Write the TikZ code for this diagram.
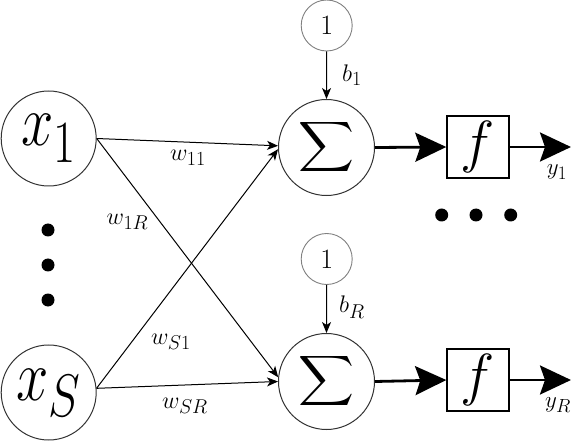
\RequirePackage{fix-cm}
\documentclass[tikz,border=0pt]{standalone}
\usepackage{graphicx}
\usetikzlibrary{arrows.meta}
\DeclareMathSizes{58}{58}{48}{40}
\DeclareMathSizes{24}{24}{20}{16}
\DeclareMathSizes{23}{23}{19}{15}
\tikzset{
  neuron/.style={circle, draw=black!80, line width=1pt, minimum size=95pt, inner sep=0pt},
  sumnode/.style={neuron, minimum size=96pt},
  biasnode/.style={circle, draw=black!50, line width=0.9pt, minimum size=51pt, inner sep=0pt, font=\fontsize{28}{32}\selectfont},
  fnode/.style={draw, line width=1.4pt, minimum size=62pt, inner sep=0pt},
  dotnode/.style={circle, fill, minimum size=13pt, inner sep=0pt},
  thinarrow/.style={-{Stealth[length=11pt,width=9pt,inset=3pt]}, line width=1pt},
  thickarrow/.style={-{Stealth[length=31pt,width=29pt,inset=5pt]}, line width=2.8pt},
  lbl/.style={font=\fontsize{24}{28}\selectfont, inner sep=0pt},
  smlbl/.style={font=\fontsize{23}{27}\selectfont, inner sep=0pt},
}
\newcommand{\bigmath}[1]{\scalebox{1}[1.25]{\fontsize{58}{60}\selectfont$#1$}}
\newcommand{\sumglyph}{\resizebox*{56pt}{56pt}{$\displaystyle\sum$}}
\begin{document}
\begin{tikzpicture}[x=1pt,y=-1pt]
\useasboundingbox (0,0) rectangle (571,441);
% inputs
\node[neuron] (x1) at (48.7,138.5) {\bigmath{x_{\lower5pt\hbox{$\scriptstyle 1$}}}};
\node[neuron] (xS) at (48.7,392.5) {\bigmath{x_S}};
% summation nodes
\node[sumnode] (s1) at (326.5,147.5) {\sumglyph};
\node[sumnode] (sR) at (326.5,381.5) {\sumglyph};
% bias nodes
\node[biasnode] (b1) at (326.7,25.5) {1};
\node[biasnode] (bR) at (326.7,259) {1};
% activation boxes
\node[fnode] (f1) at (478,147) {\fontsize{58}{60}\selectfont$f$};
\node[fnode] (fR) at (478,380) {\fontsize{58}{60}\selectfont$f$};
\coordinate (o1) at (571,147);
\coordinate (oR) at (571,380);
% connectors
\draw[thinarrow] (x1.east) -- (s1.178);
\draw[thinarrow] (x1.east) -- (sR.175);
\draw[thinarrow] (xS.5) -- (s1.182);
\draw[thinarrow] (xS.5) -- (sR.west);
\draw[thinarrow] (b1.south) -- (s1.north);
\draw[thinarrow] (bR.south) -- (sR.north);
\draw[thickarrow] (s1.east) -- (f1.west);
\draw[thickarrow] (sR.east) -- (fR.west);
\draw[thickarrow] (f1.east) -- (o1);
\draw[thickarrow] (fR.east) -- (oR);
% labels
\node[lbl] (lw11) at (188,158) {$w_{11}$};
\node[lbl] (lw1R) at (127.5,222) {$w_{1R}$};
\node[lbl] (lwS1) at (171,342) {$w_{S1}$};
\node[lbl] (lwSR) at (185,406) {$w_{SR}$};
\node[lbl] (lb1) at (352,75) {$b_1$};
\node[lbl] (lbR) at (352,307) {$b_R$};
\node[smlbl] (ly1) at (557,172) {$y_1$};
\node[smlbl] (lyR) at (558,405) {$y_R$};
% dots
\node[dotnode] (v1) at (48,230) {};
\node[dotnode] (v2) at (48,265) {};
\node[dotnode] (v3) at (48,300) {};
\node[dotnode] (h1) at (441.7,215) {};
\node[dotnode] (h2) at (476,215) {};
\node[dotnode] (h3) at (510.7,215) {};
\end{tikzpicture}
\end{document}
